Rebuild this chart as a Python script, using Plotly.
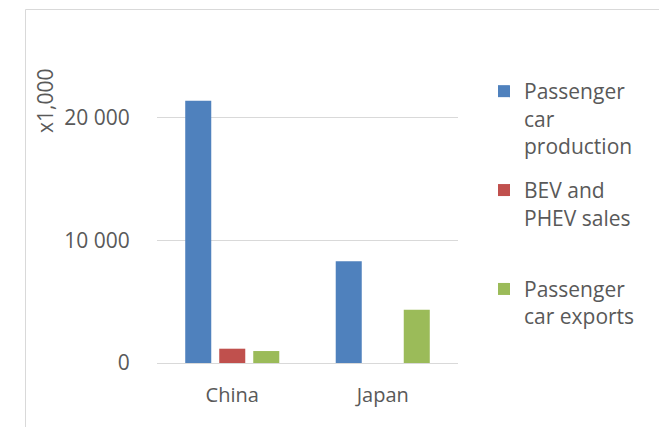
import plotly.graph_objects as go

categories = ["China", "Japan"]
production = [21360, 8300]
bev_phev = [1165, None]
exports = [975, 4340]
series_names = ["Passenger<br>car<br>production", "BEV and<br>PHEV sales<br> ", "Passenger<br>car exports"]
colors = ["#4F81BD", "#C0504D", "#9BBB59"]
tick_vals = [0, 10000, 20000]
tick_text = ["0", "10 000", "20 000"]

FONT = "Open Sans"
GREY = "#595959"
W, H = 659, 427
L, R, T, B = 157, 201, 93, 64
pw, ph = W - L - R, H - T - B

fig = go.Figure()
for i, (name, vals) in enumerate(zip(series_names, [production, bev_phev, exports])):
    fig.add_trace(go.Bar(x=categories, y=vals, name=name, marker_color=colors[i],
                         marker_line_width=0, legendgroup=str(i)))

def px_x(px):
    return (px - L) / pw

def px_y(py):
    return (H - B - py) / ph

fig.update_layout(
    width=W, height=H,
    margin=dict(l=L, r=R, t=T, b=B, pad=0),
    paper_bgcolor="white", plot_bgcolor="white",
    font=dict(family=FONT, size=20, color=GREY),
    barmode="group", bargap=0.322, bargroupgap=0.235,
    xaxis=dict(range=[-0.5, 1.5], showgrid=False, showline=True, linecolor="#D9D9D9", linewidth=1,
               ticks="outside", ticklen=14, tickcolor="rgba(0,0,0,0)",
               tickfont=dict(family=FONT, size=20, color=GREY), fixedrange=True),
    yaxis=dict(range=[0, 22000], tickvals=tick_vals, ticktext=tick_text, showgrid=True,
               gridcolor="#D9D9D9", gridwidth=1, zeroline=False, showline=False,
               ticks="outside", ticklen=22, tickcolor="rgba(0,0,0,0)",
               tickfont=dict(family=FONT, size=21, color=GREY)),
    showlegend=True,
    legend=dict(x=px_x(484), xanchor="left", y=px_y(71), yanchor="top", valign="top",
                font=dict(family=FONT, size=21, color=GREY), tracegroupgap=14,
                traceorder="grouped", bgcolor="rgba(0,0,0,0)", maxheight=420),
    annotations=[dict(text="x1,000", x=px_x(45), y=px_y(101), xref="paper", yref="paper",
                      textangle=-90, showarrow=False, xanchor="center", yanchor="middle",
                      font=dict(family=FONT, size=21, color=GREY))],
    shapes=[
        dict(type="line", xref="paper", yref="paper", x0=px_x(25.5), x1=px_x(700), y0=px_y(9.5), y1=px_y(9.5),
             line=dict(color="#D9D9D9", width=1)),
        dict(type="line", xref="paper", yref="paper", x0=px_x(25.5), x1=px_x(25.5), y0=px_y(9.5), y1=px_y(460),
             line=dict(color="#D9D9D9", width=1)),
    ],
)

fig.write_html("out.html")
